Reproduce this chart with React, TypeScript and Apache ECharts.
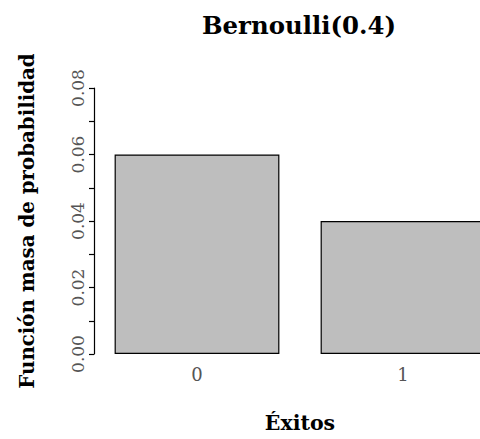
import React, { useEffect, useRef } from "react";
import * as echarts from "echarts";

// Bernoulli(0.4) probability mass values as drawn
const categories = ["0", "1"];
const probabilities = [0.06, 0.04];
const yTicks = [0, 0.02, 0.04, 0.06, 0.08];

const titleText = "Bernoulli(0.4)";
const xName = "Éxitos";
const yName = "Función masa de probabilidad";

const SERIF = "'DejaVu Serif', serif";

export default function App() {
  const ref = useRef<HTMLDivElement>(null);

  useEffect(() => {
    if (!ref.current) return;
    const chart = echarts.init(ref.current, undefined, { renderer: "svg" });
    chart.setOption({
      animation: false,
      backgroundColor: "#ffffff",
      graphic: [
        {
          type: "text",
          x: 299,
          y: 25,
          style: {
            text: titleText,
            font: `bold 24.4px ${SERIF}`,
            fill: "#000",
            align: "center",
            verticalAlign: "middle",
          },
        },
      ],
      // plot region runs past the right edge of the visible window, so the second bar is cut off
      grid: {
        left: 94,
        top: 88,
        height: 266,
        width: 412,
        containLabel: false,
        outerBoundsMode: "none",
      },
      xAxis: {
        type: "category",
        data: categories,
        axisLine: { show: false },
        axisTick: { show: false },
        axisLabel: {
          color: "#555",
          fontFamily: SERIF,
          fontSize: 18,
          margin: 11,
        },
        name: xName,
        nameLocation: "middle",
        nameGap: 58,
        nameTextStyle: { fontFamily: SERIF, fontWeight: "bold", fontSize: 20.5, color: "#000" },
      },
      yAxis: {
        type: "value",
        min: yTicks[0],
        max: yTicks[yTicks.length - 1],
        interval: yTicks[1] - yTicks[0],
        splitLine: { show: false },
        axisLine: { show: true, lineStyle: { color: "#000", width: 1.2 } },
        axisTick: { show: true, length: 5, lineStyle: { color: "#000", width: 1.2 } },
        minorTick: { show: true, splitNumber: 2, length: 5, lineStyle: { color: "#000", width: 1.2 } },
        axisLabel: {
          rotate: 90,
          color: "#555",
          fontFamily: SERIF,
          fontSize: 17,
          margin: 8,
          formatter: (v: number) => v.toFixed(2),
        },
        name: yName,
        nameLocation: "middle",
        nameGap: 57,
        nameTextStyle: { fontFamily: SERIF, fontWeight: "bold", fontSize: 19.8, color: "#000" },
      },
      series: [
        {
          type: "bar",
          data: probabilities,
          barWidth: "80%",
          itemStyle: { color: "#bebebe", borderColor: "#000", borderWidth: 1.2 },
        },
      ],
    });
    return () => chart.dispose();
  }, []);

  return (
    <div
      style={{ position: "absolute", left: 0, top: 0, width: 480, height: 439, overflow: "hidden", background: "#fff" }}
    >
      <div ref={ref} style={{ width: 540, height: 439 }} />
    </div>
  );
}
